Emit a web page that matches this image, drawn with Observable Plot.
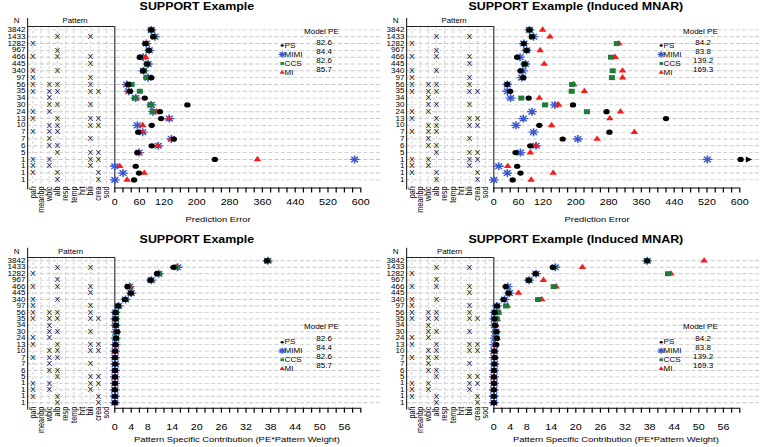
<!DOCTYPE html>
<html><head><meta charset="utf-8">
<script src="https://cdn.jsdelivr.net/npm/d3@7"></script>
<script src="https://cdn.jsdelivr.net/npm/@observablehq/plot@0.6"></script>
<style>
body{margin:0;background:#fff;}
#wrap{position:relative;width:760px;height:447px;overflow:hidden;background:#fff;}
.panel{position:absolute;transform-origin:0 0;}
.panel svg{display:block;overflow:visible;}
</style></head><body><div id="wrap"></div>
<script>
// ---------------- data ----------------
const nLabels = [3842,1433,1282,967,466,445,340,97,56,35,34,30,24,13,10,7,7,6,5,1,1,1,1];
const variables = ["pafi","meanbp","wblc","alb","resp","temp","hrt","bili","crea","sod"];
const missingPatterns = [
  [], ["alb","bili"], ["pafi"], ["alb"], ["pafi","alb","bili"], ["bili"], ["pafi","alb"], ["pafi","bili"],
  ["pafi","wblc","alb","bili"], ["pafi","wblc","alb","bili","crea"], ["wblc"], ["wblc","alb","bili"],
  ["pafi","wblc"], ["pafi","alb","bili","crea"], ["wblc","alb","bili","crea"], ["pafi","wblc","alb"],
  ["wblc","bili"], ["wblc","alb"], ["alb","bili","crea"], ["pafi","wblc","bili","crea"],
  ["pafi","wblc","bili"], ["pafi","alb","crea"], ["alb","crea"]
];
const seriesNames = ["PS","MIMI","CCS","MI"];
const modelPE_orig = ["82.6","84.4","82.6","85.7"];
const modelPE_mnar = ["84.2","83.8","139.2","169.3"];
const peTickLabels = [0,60,120,200,280,360,440,520,600];
const contribTickLabels = [0,4,8,14,20,26,32,38,44,50,56];

// Prediction error, original data
const pe_PS   = [89,94,75,83,61,79,69,89,33,37,73,177,110,113,90,57,144,90,55,244,51,59,47];
const pe_MIMI = [89,98,77,84,69,81,70,81,29,34,51,89,93,133,55,68,138,106,59,585,0,20,0];
const pe_CCS  = [89,95,75,83,62,79,71,77,41,61,49,87,93,null,null,null,null,null,null,null,null,null,null];
const pe_MI   = [90,96,77,84,75,80,70,80,30,35,52,88,102,132,68,68,138,105,58,348,12,72,30];
// Prediction error, induced MNAR
const peM_PS   = [87,93,73,80,57,75,65,72,33,40,85,193,275,420,111,282,168,89,53,602,57,65,46];
const peM_MIMI = [87,97,73,80,64,77,71,68,33,33,41,149,93,72,54,97,205,103,65,521,12,33,0];
const peM_CCS  = [87,93,300,80,286,75,290,288,191,190,67,125,227,null,null,null,null,null,null,null,null,null,null];
const peM_MI   = [119,137,305,113,296,123,314,314,195,221,111,158,309,283,141,343,252,103,89,650,34,145,91];
// Pattern specific contribution, original data
const pc_PS   = [37.1,14.3,10.3,8.7,3.1,3.9,2.5,0.8,0.2,0.14,0.27,0.58,0.29,0.16,0.1,0.04,0.11,0.06,0.03,0.03,0.01,0.01,0.01];
const pc_MIMI = [37.3,15.3,10.7,8.9,3.6,4.0,2.6,0.9,0.18,0.13,0.19,0.29,0.25,0.19,0.06,0.05,0.11,0.07,0.03,0.06,0,0,0];
const pc_CCS  = [37.3,14.9,10.8,8.8,3.2,3.9,2.6,0.8,0.25,0.23,0.18,0.29,0.25,null,null,null,null,null,null,null,null,null,null];
const pc_MI   = [37.5,15.0,10.7,8.9,3.8,3.9,2.6,0.85,0.18,0.13,0.19,0.29,0.27,0.19,0.07,0.05,0.11,0.07,0.03,0.04,0,0.01,0];
// Pattern specific contribution, induced MNAR
const pcM_PS   = [37.4,14.4,10.2,8.5,2.9,3.6,2.4,0.77,0.2,0.15,0.32,0.64,0.73,0.6,0.12,0.22,0.13,0.06,0.03,0.07,0.01,0.01,0.01];
const pcM_MIMI = [37.4,15.0,10.3,8.6,3.4,3.8,2.6,0.73,0.2,0.12,0.15,0.49,0.24,0.1,0.06,0.07,0.16,0.07,0.04,0.06,0,0,0];
const pcM_CCS  = [37.4,14.6,42.5,8.6,14.6,3.6,10.8,3.0,1.1,0.73,0.25,0.41,0.6,null,null,null,null,null,null,null,null,null,null];
const pcM_MI   = [51.3,21.6,43.2,12.1,15.2,6.0,11.7,3.3,1.2,0.85,0.42,0.52,0.81,0.4,0.16,0.26,0.19,0.07,0.05,0.08,0,0.02,0.01];

// ---------------- styling ----------------
const FONT = "'Liberation Sans', Arial, Helvetica, sans-serif";
const S = 1.22; // horizontal stretch of the original graphic
const colors = {PS:"#000000", MIMI:"#3a5ad0", CCS:"#1e7b3a", MI:"#f41c1c"};
const star8 = {draw(ctx, size){ const r=Math.sqrt(size/Math.PI), d=r*Math.SQRT1_2;
  ctx.moveTo(-r,0);ctx.lineTo(r,0);ctx.moveTo(0,-r);ctx.lineTo(0,r);
  ctx.moveTo(-d,-d);ctx.lineTo(d,d);ctx.moveTo(-d,d);ctx.lineTo(d,-d);}};
const symbols = {PS:"circle", MIMI:star8, CCS:"square", MI:"triangle"};
const sizes = {PS:2.6, MIMI:4.0, CCS:2.8, MI:2.3};
const legendSizes = {PS:1.3, MIMI:3, CCS:1.6, MI:1.6};

const geoTop = {height:224, marginTop:26, rowStep:6.818, axisY:187.5, tickPad:6.2, titleBase:9.5,
  headerY:20.7, patternHdrX:74.5, leftExt:8, xLabelX:217.5, xLabelBase:221.7,
  legendHdrY:31, legendItemY:[45,54,63,72], legendValY:[42,51,60,69]};
const geoBottom = {height:223, marginTop:33.1, rowStep:6.45, axisY:183.7, tickPad:10.4, titleBase:18.5,
  headerY:27, patternHdrX:70, leftExt:9.4, xLabelX:236.3, xLabelBase:217.7,
  legendHdrY:102, legendItemY:[117.7,126.3,135.3,144.3], legendValY:[114.3,123.7,132.7,141]};

function makePanel(p, g) {
  const W = p.width / S;
  const leftPx = 27 / S, zeroPx = 114.2 / S, spanPx = 246 / S;
  const kx = spanPx / p.xMax;
  const xmin = (leftPx - zeroPx) / kx, xmax = (W - zeroPx) / kx;
  const axisRow = -0.5 + (g.axisY - g.marginTop) / g.rowStep;
  const yOfPx = py => -0.5 + (py - g.marginTop) / g.rowStep;
  const DX = px => px / S - leftPx;
  const DY = py => py - g.marginTop;
  const colX = i => -(variables.length - i) * p.step;
  const rows = d3.range(nLabels.length);
  const marks = [];
  const label = (txt, px, py, opts) => Plot.text([txt], Object.assign({frameAnchor: "top-left", dx: DX(px), dy: DY(py),
    text: d => d, textAnchor: "middle", lineAnchor: "middle"}, opts));
  // dashed grid
  marks.push(Plot.ruleY(rows, {y: d => d, x1: xmin, x2: xmax, stroke: "#c6c6c6", strokeDasharray: "3.4,1.8", strokeWidth: 0.9}));
  marks.push(Plot.ruleX(variables, {x: (d, i) => colX(i), y1: -0.5, y2: axisRow, stroke: "#d2d2d2", strokeDasharray: "2.5,2.5", strokeWidth: 0.9}));
  // frame lines
  marks.push(Plot.ruleY([-0.5], {x1: xmin, x2: 0, stroke: "#222", strokeWidth: 1}));
  marks.push(Plot.ruleX([xmin], {y1: yOfPx(g.marginTop - g.leftExt), y2: axisRow + 0.3, stroke: "#222", strokeWidth: 0.9}));
  marks.push(Plot.ruleX([0], {y1: -0.5, y2: axisRow, stroke: "#222", strokeWidth: 0.9}));
  marks.push(Plot.ruleY([axisRow], {x1: 0, x2: p.xMax, stroke: "#000", strokeWidth: 1}));
  // x axis ticks
  const tickVals = d3.range(0, p.xMax + p.tickEvery / 2, p.tickEvery);
  const labelSet = new Set(p.tickLabels);
  const fmt = d => labelSet.has(d) ? String(d) : "";
  const xScale = {domain: [xmin, xmax]};
  if (Plot.axisX) {
    marks.push(Plot.axisX(tickVals, {tickSize: 5, tickPadding: g.tickPad, tickFormat: fmt, label: null, fontSize: 8.8}));
  } else {
    Object.assign(xScale, {ticks: tickVals, tickFormat: fmt, tickSize: 5, tickPadding: g.tickPad, label: null});
  }
  // pattern X marks
  const cells = rows.flatMap(r => missingPatterns[r].map(v => ({r, c: variables.indexOf(v)})));
  marks.push(Plot.text(cells, {x: d => colX(d.c), y: d => d.r, text: () => "X", fontSize: 7}));
  // N labels
  marks.push(Plot.text(rows, {x: xmin, y: d => d, text: d => String(nLabels[d]), textAnchor: "end", dx: -1.8, fontSize: 6.6}));
  // variable labels
  marks.push(Plot.text(variables, {x: (d, i) => colX(i), y: axisRow - 1.5 / g.rowStep, text: d => d, rotate: -90, textAnchor: "end", fontSize: 7.3}));
  // headers
  marks.push(label("N", 16, g.headerY, {fontSize: 6.6}));
  marks.push(label("Pattern", g.patternHdrX, g.headerY, {fontSize: 6.4}));
  // data points
  const clamp = p.xMax * 1.02;
  const order = ["MIMI", "MI", "CCS", "PS"];
  for (const name of order) {
    const arr = p.series[name];
    const isStar = name === "MIMI";
    marks.push(Plot.dot(rows, {
      filter: i => arr[i] != null && arr[i] <= clamp,
      x: i => arr[i], y: i => i, symbol: symbols[name], r: sizes[name],
      fill: isStar ? "none" : colors[name], stroke: isStar ? colors[name] : "none", strokeWidth: isStar ? 1.3 : 0
    }));
    // off-scale values: arrow at the right edge
    marks.push(Plot.dot(rows, {
      filter: i => arr[i] != null && arr[i] > clamp,
      x: () => p.xMax * 1.033, y: i => i, symbol: "triangle", rotate: 90, r: 2.2, fill: "#000", stroke: "none"
    }));
  }
  // legend
  marks.push(label("Model PE", 320.8, g.legendHdrY, {fontSize: 6.6}));
  seriesNames.forEach((name, k) => {
    const isStar = name === "MIMI";
    marks.push(Plot.dot([0], {frameAnchor: "top-left", dx: DX(281.6), dy: DY(g.legendItemY[k]), symbol: symbols[name], r: legendSizes[name],
      fill: isStar ? "none" : colors[name], stroke: isStar ? colors[name] : "none", strokeWidth: isStar ? 1.2 : 0}));
    marks.push(label(name, 284, g.legendItemY[k], {textAnchor: "start", fontSize: 6.6}));
    marks.push(label(p.pe[k], 323.5, g.legendValY[k], {fontSize: 6.6}));
  });
  // title & x label
  marks.push(label(p.title, 196.3, g.titleBase, {lineAnchor: "bottom", fontWeight: "bold", fontSize: 10.2}));
  marks.push(label(p.xLabel, g.xLabelX, g.xLabelBase, {lineAnchor: "bottom", fontSize: 7.7}));

  return Plot.plot({
    width: W, height: g.height,
    marginLeft: leftPx, marginRight: 0, marginTop: g.marginTop, marginBottom: g.height - g.axisY,
    x: xScale,
    y: {domain: [-0.5, axisRow], reverse: true, axis: null},
    style: {fontFamily: FONT, fontSize: "8.8px", background: "transparent", color: "#000", overflow: "visible"},
    marks
  });
}

const panels = [
  {left: 0, top: 0, width: 380, geo: geoTop, title: "SUPPORT Example", xLabel: "Prediction Error",
   xMax: 600, step: 20, tickEvery: 20, tickLabels: peTickLabels, pe: modelPE_orig,
   series: {PS: pe_PS, MIMI: pe_MIMI, CCS: pe_CCS, MI: pe_MI}},
  {left: 378.5, top: 0, width: 381.5, geo: geoTop, title: "SUPPORT Example (Induced MNAR)", xLabel: "Prediction Error",
   xMax: 600, step: 20, tickEvery: 20, tickLabels: peTickLabels, pe: modelPE_mnar,
   series: {PS: peM_PS, MIMI: peM_MIMI, CCS: peM_CCS, MI: peM_MI}},
  {left: 0, top: 224, width: 380, geo: geoBottom, title: "SUPPORT Example", xLabel: "Pattern Specific Contribution (PE*Pattern Weight)",
   xMax: 60, step: 2, tickEvery: 2, tickLabels: contribTickLabels, pe: modelPE_orig,
   series: {PS: pc_PS, MIMI: pc_MIMI, CCS: pc_CCS, MI: pc_MI}},
  {left: 378.5, top: 224, width: 381.5, geo: geoBottom, title: "SUPPORT Example (Induced MNAR)", xLabel: "Pattern Specific Contribution (PE*Pattern Weight)",
   xMax: 60, step: 2, tickEvery: 2, tickLabels: contribTickLabels, pe: modelPE_mnar,
   series: {PS: pcM_PS, MIMI: pcM_MIMI, CCS: pcM_CCS, MI: pcM_MI}}
];

const wrap = document.getElementById("wrap");
for (const p of panels) {
  const div = document.createElement("div");
  div.className = "panel";
  div.style.left = p.left + "px";
  div.style.top = p.top + "px";
  div.style.transform = `scaleX(${S})`;
  div.appendChild(makePanel(p, p.geo));
  wrap.appendChild(div);
}
</script>
</body></html>
